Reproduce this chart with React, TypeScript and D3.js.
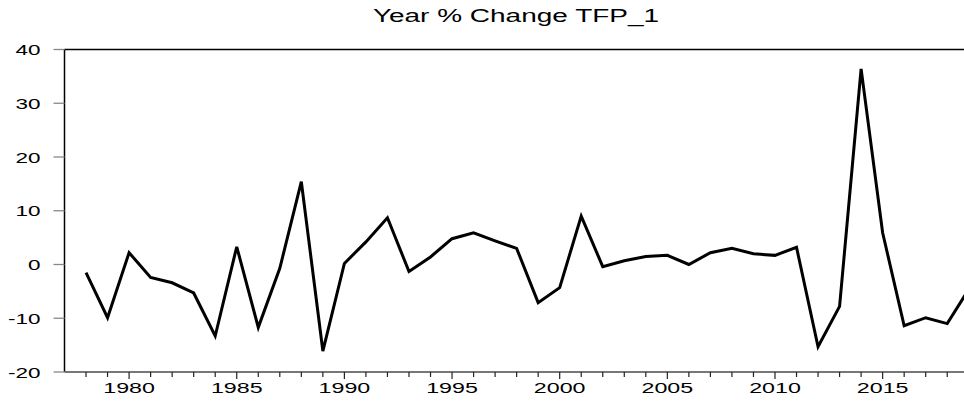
import React from "react";
import * as d3 from "d3";

// yearly % change of TFP_1
const years = d3.range(1978, 2020);
const values = [
  -1.5, -9.9, 2.2, -2.4, -3.4, -5.3, -13.3, 3.3, -11.7, -0.7,
  15.4, -16.1, 0.2, 4.2, 8.7, -1.3, 1.4, 4.8, 5.9, 4.4,
  3.0, -7.1, -4.3, 9.0, -0.4, 0.7, 1.5, 1.7, 0.0, 2.2,
  3.0, 2.0, 1.7, 3.2, -15.3, -7.8, 36.4, 5.9, -11.4, -9.9,
  -11.0, -4.6,
];
const yTicks = [-20, -10, 0, 10, 20, 30, 40];
const xLabelYears = [1980, 1985, 1990, 1995, 2000, 2005, 2010, 2015];
const title = "Year % Change TFP_1";

const W = 964;
const H = 402;
const left = 64.5;
const top = 49.5;
const bottom = 372;
const stretch = 1.5; // text in the source is horizontally stretched
const font = "'Liberation Sans', Arial, Helvetica, sans-serif";

export default function App() {
  const x = d3.scaleLinear().domain([1977, 2020]).range([left, left + 43 * 21.53]);
  const y = d3.scaleLinear().domain([-20, 40]).range([bottom, top]);

  const line = d3
    .line<number>()
    .x((_, i) => x(years[i]))
    .y((d) => y(d));

  const allYears = d3.range(1978, 2021);

  return (
    <svg
      width={W}
      height={H}
      style={{ position: "absolute", left: 0, top: 0, background: "#fff" }}
      fontFamily={font}
    >
      <text
        transform={`translate(516,22) scale(1.6,1)`}
        textAnchor="middle"
        fontSize={17.5}
        fill="#000"
      >
        {title}
      </text>

      {/* frame top + left */}
      <line x1={left} x2={W} y1={top} y2={top} stroke="#000" strokeWidth={1.3} />
      <line x1={left} x2={left} y1={top} y2={bottom} stroke="#000" strokeWidth={1.5} />

      {/* y ticks */}
      {yTicks.map((t) => (
        <g key={t}>
          <line x1={left - 11} x2={left} y1={y(t)} y2={y(t)} stroke="#888" strokeWidth={1.3} />
          <text
            transform={`translate(${left - 24},${y(t) + 5.5}) scale(${stretch},1)`}
            textAnchor="end"
            fontSize={15}
            fill="#000"
          >
            {t}
          </text>
        </g>
      ))}

      {/* x axis */}
      <line x1={left} x2={W} y1={bottom} y2={bottom} stroke="#777" strokeWidth={2} />
      {allYears.map((yr) => (
        <line
          key={yr}
          x1={x(yr)}
          x2={x(yr)}
          y1={bottom}
          y2={bottom + (yr % 5 === 0 ? 7 : 5)}
          stroke="#222"
          strokeWidth={1.2}
        />
      ))}
      {xLabelYears.map((yr) => (
        <text
          key={yr}
          transform={`translate(${x(yr)},${bottom + 21}) scale(${stretch},1)`}
          textAnchor="middle"
          fontSize={15.5}
          fill="#000"
        >
          {yr}
        </text>
      ))}

      <path d={line(values) ?? ""} fill="none" stroke="#000" strokeWidth={3} strokeLinejoin="miter" />
    </svg>
  );
}
